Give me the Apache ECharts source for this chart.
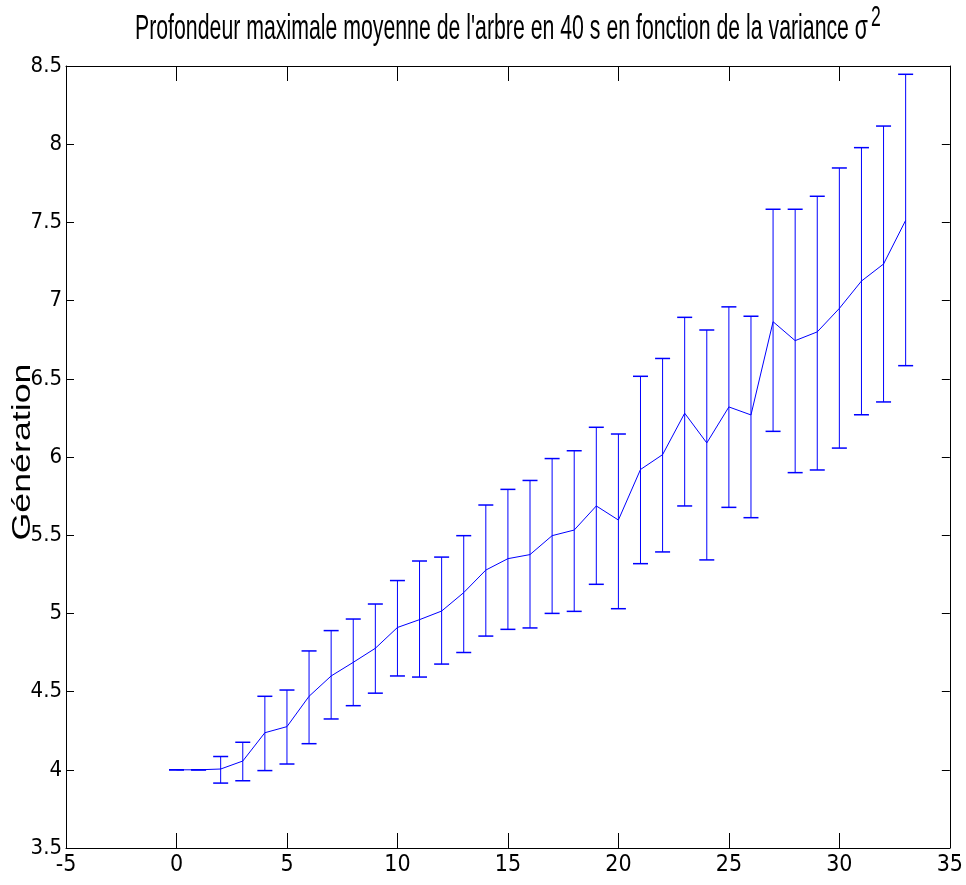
<!DOCTYPE html>
<html>
<head>
<meta charset="utf-8">
<script src="https://cdn.jsdelivr.net/npm/echarts@6/dist/echarts.min.js"></script>
<style>
html,body{margin:0;padding:0;background:#fff;}
#chart{width:966px;height:885px;}
</style>
</head>
<body>
<div id="chart"></div>
<script>
// ---- data ----
const variance = [0,1,2,3,4,5,6,7,8,9,10,11,12,13,14,15,16,17,18,19,20,21,22,23,24,25,26,27,28,29,30,31,32,33];
const meanDepth = [4.00,4.00,4.005,4.056,4.237,4.276,4.47,4.60,4.687,4.777,4.91,4.96,5.015,5.133,5.277,5.35,5.376,5.497,5.533,5.687,5.597,5.92,6.015,6.28,6.09,6.32,6.269,6.865,6.744,6.80,6.95,7.125,7.234,7.513];
const upperDepth = [4.00,4.00,4.085,4.176,4.47,4.51,4.76,4.89,4.964,5.06,5.21,5.335,5.36,5.497,5.693,5.793,5.85,5.99,6.04,6.19,6.147,6.516,6.63,6.893,6.812,6.96,6.90,7.584,7.584,7.667,7.848,7.978,8.116,8.447];
const lowerDepth = [4.00,4.00,3.915,3.93,3.995,4.037,4.167,4.325,4.41,4.49,4.60,4.593,4.676,4.75,4.855,4.898,4.907,5.00,5.013,5.186,5.03,5.318,5.393,5.687,5.342,5.678,5.612,6.164,5.90,5.917,6.057,6.27,6.352,6.584];
const titleText = "Profondeur maximale moyenne de l'arbre en 40 s en fonction de la variance \u03c3";
const titleSup = "2";
const yLabel = "G\u00e9n\u00e9ration";

const BLUE = '#0000ff';
const narrow = '"Liberation Sans Narrow", "DejaVu Sans Condensed", "Liberation Sans", sans-serif';

// measure title to condense it like the reference
const cv = document.createElement('canvas').getContext('2d');
cv.font = '35px "Liberation Sans"';
const titleW = cv.measureText(titleText).width;
const titleScale = 733 / titleW;
cv.font = '35px "Liberation Sans"';
const yW = cv.measureText(yLabel).width;
const yScaleLen = 177 / yW;

const chart = echarts.init(document.getElementById('chart'));

const axisCommon = {
  type: 'value',
  axisLine: {show: true, onZero: false, lineStyle: {color: '#000', width: 1}},
  splitLine: {show: false}
};

chart.setOption({
  animation: false,
  backgroundColor: '#fff',
  grid: {left: 66, right: 14, top: 66, bottom: 37, containLabel: false},
  xAxis: [
    Object.assign({}, axisCommon, {
      position: 'bottom', min: -5, max: 35, interval: 5,
      axisTick: {show: true, inside: true, length: 15, lineStyle: {color: '#000'}},
      axisLabel: {show: true, color: '#000', fontFamily: narrow, fontSize: 23, margin: 6}
    }),
    Object.assign({}, axisCommon, {
      position: 'top', min: -5, max: 35, interval: 5,
      axisTick: {show: true, inside: true, length: 15, lineStyle: {color: '#000'}},
      axisLabel: {show: false}
    })
  ],
  yAxis: [
    Object.assign({}, axisCommon, {
      position: 'left', min: 3.5, max: 8.5, interval: 0.5,
      axisTick: {show: true, inside: true, length: 8, lineStyle: {color: '#000'}},
      axisLabel: {show: true, color: '#000', fontFamily: narrow, fontSize: 22, margin: 4}
    }),
    Object.assign({}, axisCommon, {
      position: 'right', min: 3.5, max: 8.5, interval: 0.5,
      axisTick: {show: true, inside: true, length: 8, lineStyle: {color: '#000'}},
      axisLabel: {show: false}
    })
  ],
  graphic: [
    {
      type: 'text', x: 135, y: 29.5, scaleX: titleScale, scaleY: 1,
      style: {text: titleText, font: '35px "Liberation Sans"', fill: '#000', textAlign: 'left', textVerticalAlign: 'middle'}
    },
    {
      type: 'text', x: 871, y: 17.5, scaleX: titleScale, scaleY: 1,
      style: {text: titleSup, font: '29px "Liberation Sans"', fill: '#000', textAlign: 'left', textVerticalAlign: 'middle'}
    },
    {
      type: 'text', x: 23, y: 452, rotation: Math.PI / 2, scaleX: yScaleLen, scaleY: 0.72,
      style: {text: yLabel, font: '35px "Liberation Sans"', fill: '#000', textAlign: 'center', textVerticalAlign: 'middle'}
    }
  ],
  series: [
    {
      type: 'custom',
      xAxisIndex: 0, yAxisIndex: 0,
      data: variance.map((x, i) => [x, lowerDepth[i], upperDepth[i]]),
      encode: {x: 0, y: [1, 2]},
      z: 2,
      renderItem: function (params, api) {
        const x = api.value(0);
        const lo = api.coord([x, api.value(1)]);
        const hi = api.coord([x, api.value(2)]);
        const hw = 7.5;
        return {
          type: 'group',
          children: [
            {type: 'line', shape: {x1: lo[0], y1: lo[1], x2: hi[0], y2: hi[1]}, style: {stroke: BLUE, lineWidth: 1}},
            {type: 'line', shape: {x1: hi[0] - hw, y1: hi[1], x2: hi[0] + hw, y2: hi[1]}, style: {stroke: BLUE, lineWidth: 1.5}},
            {type: 'line', shape: {x1: lo[0] - hw, y1: lo[1], x2: lo[0] + hw, y2: lo[1]}, style: {stroke: BLUE, lineWidth: 1.5}}
          ]
        };
      }
    },
    {
      type: 'line',
      xAxisIndex: 0, yAxisIndex: 0,
      data: variance.map((x, i) => [x, meanDepth[i]]),
      showSymbol: false, symbol: 'none',
      lineStyle: {color: BLUE, width: 1},
      z: 3
    }
  ]
});
</script>
</body>
</html>
